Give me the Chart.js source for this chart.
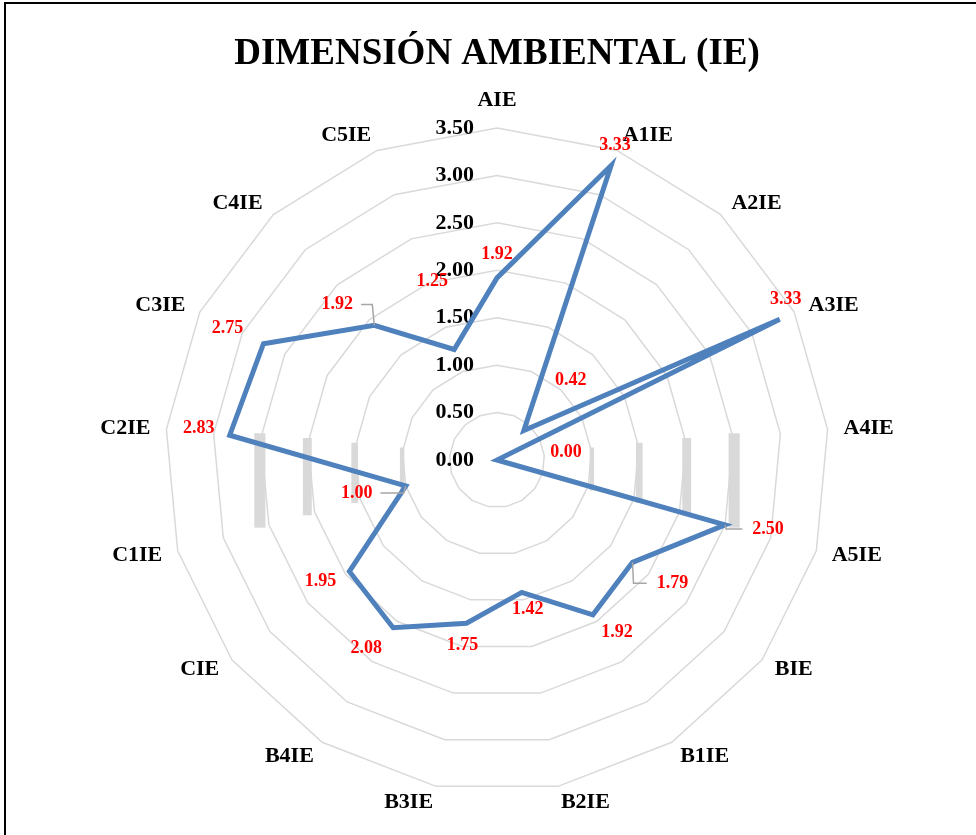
<!DOCTYPE html>
<html lang="es">
<head>
    <meta charset="UTF-8">
    <title>Dimensión Ambiental (IE)</title>
    <script src="https://cdn.jsdelivr.net/npm/chart.js"></script>
    <style>
        body {
            margin: 0;
            background-color: #ffffff;
        }

        #marco {
            position: absolute;
            left: 4px;
            top: 2px;
            width: 990px;
            height: 850px;
            border: 2px solid #000000; /* marco negro del gráfico */
        }

        #contenedor {
            position: absolute;
            left: 0;
            top: 0;
            width: 976px;
            height: 835px;
        }
    </style>
</head>
<body>
    <div id="marco"></div>
    <div id="contenedor"><canvas id="grafico"></canvas></div>
    <script>
        // Datos del gráfico
        const categorias = ["AIE", "A1IE", "A2IE", "A3IE", "A4IE", "A5IE", "BIE", "B1IE", "B2IE",
                            "B3IE", "B4IE", "CIE", "C1IE", "C2IE", "C3IE", "C4IE", "C5IE"];
        const valores = [1.92, 3.33, 0.42, 3.33, 0.00, 2.50, 1.79, 1.92, 1.42,
                         1.75, 2.08, 1.95, 1.00, 2.83, 2.75, 1.92, 1.25];
        const ticksEje = [0, 0.5, 1, 1.5, 2, 2.5, 3, 3.5];
        const titulo = "DIMENSIÓN AMBIENTAL (IE)";

        // Desplazamiento de cada etiqueta de datos respecto a su punto (px)
        const desplazEtiquetas = [[0, -24], [4, -20], [47, -50], [6, -20], [69, -8], [43, 4], [40, 21], [24, 17], [6, 17],
                                  [-4, 22], [-27, 21], [-29, 10], [-49, 7], [-31, -7], [-36, -15], [-37, -21], [-22, -68]];
        // Etiquetas con línea guía
        const conLineaGuia = [5, 6, 12, 15];

        const fuente = "'Liberation Serif', 'Times New Roman', serif";

        // Barras grises junto al eje horizontal (valores del eje)
        const barrasGrises = [1, 1.5, 2, 2.5];

        const pluginDecoracion = {
            id: 'pluginDecoracion',
            beforeDatasetsDraw: (chart) => {
                const ctx = chart.ctx;
                const r = chart.scales.r;
                ctx.save();
                // barras grises
                ctx.fillStyle = '#d9d9d9';
                barrasGrises.forEach(v => {
                    const d = r.getDistanceFromCenterForValue(v);
                    const ancho = d * 0.047;
                    const arriba = r.yCenter - 0.1 * d - 3;
                    const abajo = r.yCenter + 0.26 * d + 6;
                    [-1, 1].forEach(lado => {
                        ctx.fillRect(r.xCenter + lado * d - ancho / 2, arriba, ancho, abajo - arriba);
                    });
                });
                // etiquetas del eje
                ctx.fillStyle = '#000000';
                ctx.font = "bold 22px " + fuente;
                ctx.textAlign = 'right';
                ctx.textBaseline = 'middle';
                ticksEje.forEach(v => {
                    const d = r.getDistanceFromCenterForValue(v);
                    ctx.fillText(v.toFixed(2), r.xCenter - 23, r.yCenter - d);
                });
                // nombres de las categorías
                ctx.font = "bold 22px " + fuente;
                const radioEtq = r.drawingArea + 16;
                categorias.forEach((c, i) => {
                    const pos = r.getPointPosition(i, radioEtq);
                    let y = pos.y;
                    if (Math.abs(pos.x - r.xCenter) < 2) {
                        ctx.textAlign = 'center';
                        y += pos.y < r.yCenter ? -12 : 12;
                    } else {
                        ctx.textAlign = pos.x > r.xCenter ? 'left' : 'right';
                    }
                    ctx.fillText(c, pos.x, y);
                });
                ctx.restore();
            },
            afterDatasetsDraw: (chart) => {
                const ctx = chart.ctx;
                const meta = chart.getDatasetMeta(0);
                ctx.save();
                ctx.font = "bold 18px " + fuente;
                ctx.textAlign = 'center';
                ctx.textBaseline = 'middle';
                meta.data.forEach((p, i) => {
                    const lx = p.x + desplazEtiquetas[i][0];
                    const ly = p.y + desplazEtiquetas[i][1];
                    const texto = valores[i].toFixed(2);
                    if (conLineaGuia.includes(i)) {
                        const w = ctx.measureText(texto).width;
                        const borde = lx > p.x ? lx - w / 2 - 10 : lx + w / 2 + 8;
                        ctx.strokeStyle = '#a6a6a6';
                        ctx.lineWidth = 1.5;
                        ctx.beginPath();
                        ctx.moveTo(p.x, p.y);
                        ctx.lineTo(p.x + (lx > p.x ? 1 : -2), ly);
                        ctx.lineTo(borde, ly);
                        ctx.stroke();
                    }
                    ctx.fillStyle = '#ff0000';
                    ctx.fillText(texto, lx, ly);
                });
                ctx.restore();
            }
        };

        const ctx = document.getElementById("grafico").getContext("2d");
        new Chart(ctx, {
            type: "radar",
            data: {
                labels: categorias,
                datasets: [{
                    label: "IE",
                    data: valores,
                    borderColor: "#4F81BD",
                    borderWidth: 5,
                    pointRadius: 0,
                    pointHoverRadius: 0,
                    fill: false,
                    tension: 0
                }]
            },
            options: {
                responsive: true,
                maintainAspectRatio: false,
                animation: false,
                layout: {
                    padding: { left: 18, right: 0, top: 0, bottom: 42 }
                },
                plugins: {
                    legend: { display: false },
                    tooltip: { enabled: false },
                    title: {
                        display: true,
                        text: titulo,
                        color: "#000000",
                        font: { family: fuente, size: 37, weight: "bold" },
                        padding: { top: 32, bottom: 52 }
                    }
                },
                scales: {
                    r: {
                        min: 0,
                        max: 3.5,
                        ticks: { stepSize: 0.5, display: false },
                        grid: { color: "#d9d9d9", lineWidth: 1.5 },
                        angleLines: { display: false },
                        pointLabels: { display: false }
                    }
                }
            },
            plugins: [pluginDecoracion]
        });
    </script>
</body>
</html>
